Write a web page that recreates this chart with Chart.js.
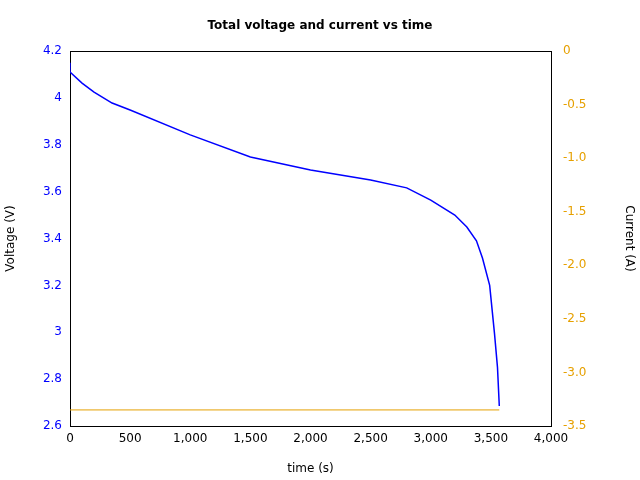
<!DOCTYPE html>
<html><head><script src="https://cdn.jsdelivr.net/npm/chart.js@4"></script>
<style>body{margin:0}#w{width:640px;height:480px}</style></head>
<body><div id="w"><canvas id="c"></canvas></div>
<script>
const timeS=[0,0,100,200,350,500,1000,1500,2000,2500,2800,3000,3200,3300,3380,3430,3490,3530,3555,3570];
const voltage=[4.15,4.11,4.063,4.025,3.978,3.948,3.842,3.748,3.692,3.65,3.616,3.564,3.50,3.449,3.39,3.317,3.20,2.995,2.85,2.685];
const currentTime=[0,3570];
const current=[-3.35,-3.35];
const xTicks=[0,500,1000,1500,2000,2500,3000,3500,4000];
const font={family:'DejaVu Sans',size:12};
new Chart(document.getElementById('c'),{
type:'line',
data:{datasets:[
{data:timeS.map((t,i)=>({x:t,y:voltage[i]})),borderColor:'#0000ff',borderWidth:1.5,pointRadius:0,yAxisID:'y',tension:0},
{data:currentTime.map((t,i)=>({x:t,y:current[i]})),borderColor:'#e6a000',borderWidth:1,pointRadius:0,yAxisID:'y1'}]},
options:{animation:false,responsive:true,maintainAspectRatio:false,
layout:{padding:0},
plugins:{legend:{display:false},tooltip:{enabled:false},
title:{display:true,text:'Total voltage and current vs time',color:'#000',font:{family:'DejaVu Sans',size:12,weight:'bold'},padding:{top:19,bottom:17.6}}},
scales:{
x:{type:'linear',min:0,max:4000,afterBuildTicks:a=>{a.ticks=xTicks.map(v=>({value:v}))},
grid:{display:false,drawTicks:false},border:{color:'#000'},
ticks:{color:'#000',font,padding:6,maxRotation:0},
title:{display:true,text:'time (s)',color:'#000',font,padding:{top:8}},
afterFit:s=>{s.height=54}},
y:{position:'left',min:2.6,max:4.2,grid:{display:false,drawTicks:false},border:{color:'#000'},
ticks:{stepSize:0.2,color:'#0000ff',font,padding:8,callback:v=>Math.round(v*10)/10},
title:{display:true,text:'Voltage (V)',color:'#000',font},
afterFit:s=>{s.width=70}},
y1:{position:'right',min:-3.5,max:0,grid:{display:false,drawTicks:false},border:{color:'#000'},
ticks:{stepSize:0.5,color:'#e6a000',font,padding:12},
title:{display:true,text:'Current (A)',color:'#000',font,padding:{top:4,bottom:4}},
afterFit:s=>{s.width=89}}
}},
plugins:[{id:'frame',afterDraw(c){const a=c.chartArea,x=c.ctx;x.save();x.strokeStyle='#000';x.lineWidth=1;x.beginPath();x.moveTo(a.left,a.top+0.5);x.lineTo(a.right,a.top+0.5);x.stroke();x.restore();}}]
});
</script></body></html>
